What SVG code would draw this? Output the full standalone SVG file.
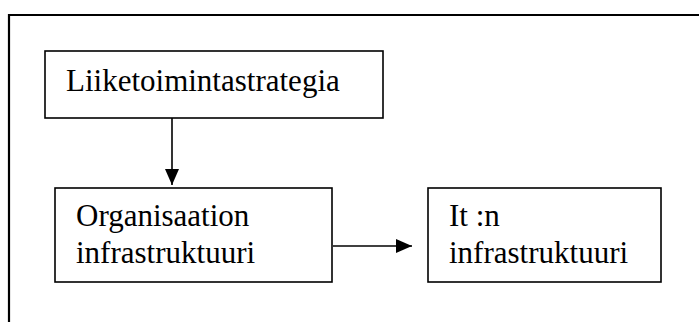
<svg xmlns="http://www.w3.org/2000/svg" width="699" height="322" viewBox="0 0 699 322">
  <style>
    .box { fill: #ffffff; stroke: #000000; stroke-width: 1.6; }
    .frame { fill: none; stroke: #000000; stroke-width: 2.2; }
    .label { font-family: 'Liberation Serif', 'DejaVu Serif', serif; font-size: 31px; fill: #000000; }
    .edge { stroke: #000000; stroke-width: 1.6; fill: none; }
  </style>
  <defs>
    <marker id="arrow" markerWidth="16" markerHeight="14" refX="16" refY="7" orient="auto" markerUnits="userSpaceOnUse">
      <path d="M0,0 L16,7 L0,14 Z" fill="#000000"/>
    </marker>
  </defs>
  <rect width="699" height="322" fill="#ffffff"/>

  <!-- outer frame: top and left edges only -->
  <path class="frame" d="M9,322 L9,15 L699,15"/>

  <g id="connectors">
    <line class="edge" x1="172" y1="118" x2="172" y2="185" marker-end="url(#arrow)"/>
    <line class="edge" x1="333" y1="246" x2="412" y2="246" marker-end="url(#arrow)"/>
  </g>

  <g id="strategy">
    <rect class="box" x="45" y="51" width="338" height="67"/>
    <text class="label" font-family="Liberation Serif, serif" x="66" y="91">Liiketoimintastrategia</text>
  </g>

  <g id="organisation">
    <rect class="box" x="55" y="188" width="277" height="94"/>
    <text class="label" font-family="Liberation Serif, serif" x="76" y="226">Organisaation</text>
    <text class="label" font-family="Liberation Serif, serif" x="76" y="263">infrastruktuuri</text>
  </g>

  <g id="it">
    <rect class="box" x="428" y="188" width="233" height="94"/>
    <text class="label" font-family="Liberation Serif, serif" x="449" y="226">It :n</text>
    <text class="label" font-family="Liberation Serif, serif" x="449" y="263">infrastruktuuri</text>
  </g>
</svg>
